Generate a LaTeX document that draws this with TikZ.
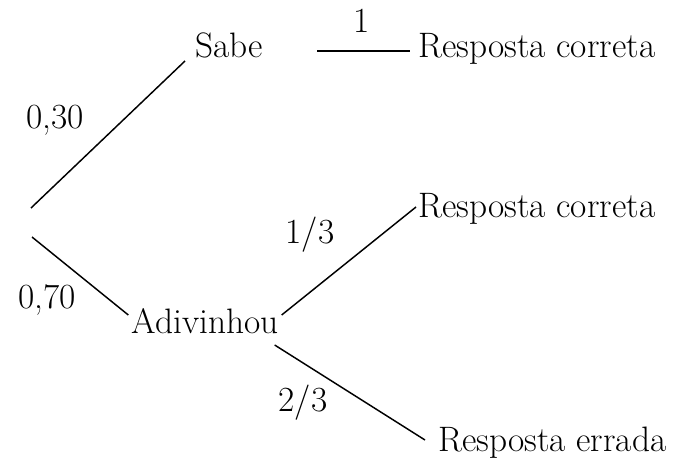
\documentclass[tikz,border=0pt]{standalone}
\usetikzlibrary{positioning}

\begin{document}
\begin{tikzpicture}[
    x=0.75pt, y=-0.75pt,
    % Estilo dos textos da arvore: sem caixa, alinhados pela linha de base
    rotulo/.style={
        inner sep=0pt,
        anchor=base west,
        font=\fontsize{26.5}{30}\selectfont
    },
    prob/.style={rotulo, anchor=base},
    ramo/.style={line width=1.1pt, draw=black}
]
    \useasboundingbox (0,0) rectangle (685,458);

    % --- RAIZ ---
    \coordinate (raiz) at (31,222);

    % --- NOS DA ARVORE ---
    \node[rotulo] (sabe) at (195,57) {Sabe};
    \node[prob] (adiv) at (205,333) {Adivinhou};
    \node[rotulo] (rc1) at (418,57) {Resposta correta};
    \node[rotulo] (rc2) at (418,217) {Resposta correta};
    \node[rotulo] (re) at (438,451) {Resposta errada};

    % --- RAMOS ---
    \draw[ramo] ([shift={(0,-14)}]raiz) -- ([shift={(-10,4)}]sabe.base west);
    \draw[ramo] ([shift={(1,15)}]raiz) -- ([shift={(-3,-18)}]adiv.base west);
    \draw[ramo] ([shift={(54,-6)}]sabe.base east) -- ([shift={(-8,-6)}]rc1.base west);
    \draw[ramo] ([shift={(3,-18)}]adiv.base east) -- ([shift={(-2,-10)}]rc2.base west);
    \draw[ramo] ([shift={(-4,12)}]adiv.base east) -- ([shift={(-13,-11)}]re.base west);

    % --- PROBABILIDADES ---
    \node[prob] (p30) at (55,128) {0,30};
    \node[prob] (p70) at (47,308) {0,70};
    \node[prob] (p1) at (362,32) {1};
    \node[prob] (p13) at (310,243) {1/3};
    \node[prob] (p23) at (303,411) {2/3};

\end{tikzpicture}
\end{document}
